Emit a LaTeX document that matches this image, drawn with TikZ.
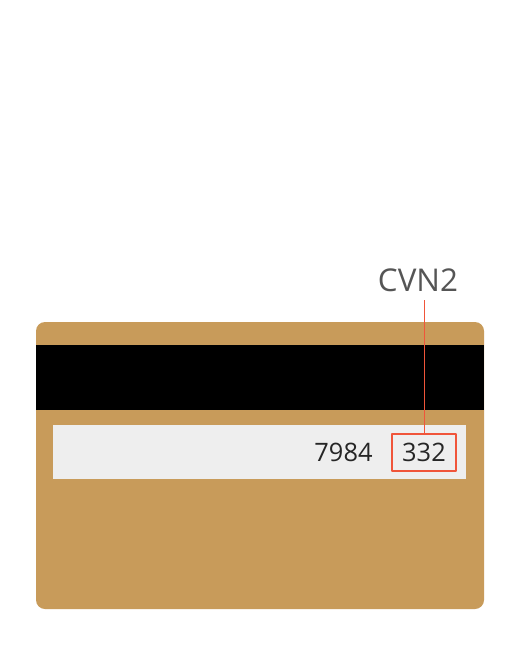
\documentclass[tikz,border=0pt]{standalone}
\usepackage{fontspec}
\setmainfont{Open Sans}
\definecolor{cardgold}{HTML}{C89B5A}
\definecolor{stripgray}{HTML}{EEEEEE}
\definecolor{cvnred}{HTML}{F0553A}
\definecolor{labelgray}{HTML}{555555}
\begin{document}
\begin{tikzpicture}[x=1bp,y=-1bp,line join=bevel]
\useasboundingbox (0,0) rectangle (528,650);
%%
\fill [cardgold,rounded corners=9bp] (36,322) rectangle (484,609);
\fill [black] (36,345) rectangle (484,410);
\fill [stripgray] (53,425) rectangle (466,479);
\node (label) at (418.0,280.0) [draw=none,text=labelgray,font=\fontsize{31.5}{34}\selectfont] {CVN2};
  \node (num) at (343.5,452.5) [draw=none,text=black!85,font=\fontsize{25.5}{28}\selectfont] {7984};
  \node (code) at (424.0,452.5) [draw=cvnred,line width=2.2bp,minimum width=64bp,minimum height=37bp,inner sep=0pt,text=black!85,font=\fontsize{25.5}{28}\selectfont] {332};
  \coordinate (top) at (424.0,300.0);
  \draw [cvnred,line width=1bp] (code.north) -- (top);
%
\end{tikzpicture}
\end{document}
